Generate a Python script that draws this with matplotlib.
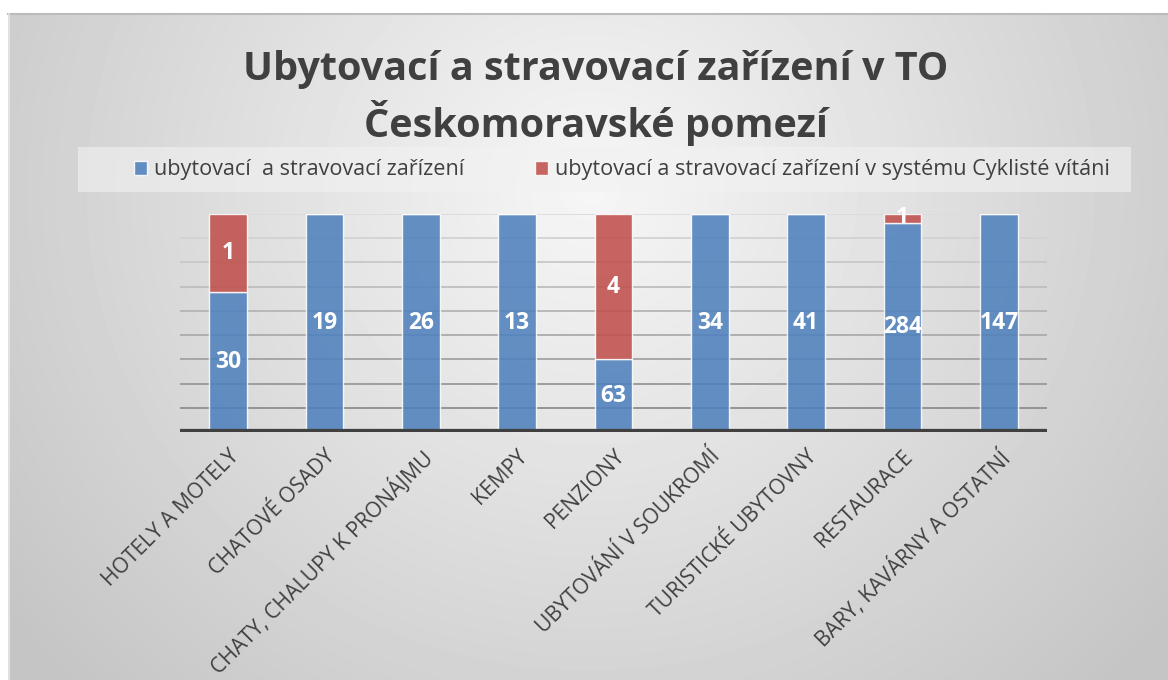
import numpy as np
import matplotlib
matplotlib.use('Agg')
import matplotlib.pyplot as plt
from matplotlib.patches import Rectangle, Patch
from matplotlib.lines import Line2D

plt.rcParams['font.family'] = ['Open Sans', 'DejaVu Sans']

# Data (bar heights are shares of the full column, labels as printed on the chart)
categories = ['HOTELY A MOTELY', 'CHATOVÉ OSADY', 'CHATY, CHALUPY K PRONÁJMU', 'KEMPY',
              'PENZIONY', 'UBYTOVÁNÍ V SOUKROMÍ', 'TURISTICKÉ UBYTOVNY', 'RESTAURACE',
              'BARY, KAVÁRNY A OSTATNÍ']
blue_share = [0.64, 1.0, 1.0, 1.0, 0.333, 1.0, 1.0, 0.96, 1.0]
red_share = [0.36, 0.0, 0.0, 0.0, 0.667, 0.0, 0.0, 0.04, 0.0]
blue_labels = ['30', '19', '26', '13', '63', '34', '41', '284', '147']
red_labels = ['1', '', '', '', '4', '', '', '1', '']
series_names = ['ubytovací  a stravovací zařízení',
                'ubytovací a stravovací zařízení v systému Cyklisté vítáni']

W, H = 1168, 680
fig = plt.figure(figsize=(W / 100, H / 100), dpi=100)
fig.patch.set_facecolor('white')

# radial gray background of the chart area
bg = fig.add_axes([8 / W, 0, (W - 8) / W, (H - 13) / H], zorder=-5)
yy, xx = np.mgrid[13:H, 8:W]
d = np.hypot(xx - 590, (yy - 190) * 1.05)
shade = np.clip(0.965 - 0.19 * d / 720, 0.77, 0.97)
bg.imshow(shade, cmap='gray', vmin=0, vmax=1, aspect='auto', interpolation='bilinear')
bg.axis('off')
fig.add_artist(Line2D([8 / W, 1], [1 - 13.5 / H] * 2, color='#BBBBBB', lw=1.5))
fig.add_artist(Line2D([8.5 / W] * 2, [0, 1 - 13.5 / H], color='#E6E6E6', lw=1.2))

# title
fig.text(596 / W, 1 - 98 / H, 'Ubytovací a stravovací zařízení v TO\nČeskomoravské pomezí',
         ha='center', va='center', fontsize=28.5, fontweight='bold', color='#404040',
         linespacing=1.3)

# legend box
fig.add_artist(Rectangle((78 / W, 1 - 192 / H), (1131 - 78) / W, 45 / H,
                         transform=fig.transFigure, facecolor='#F2F2F2', alpha=0.6,
                         edgecolor='none'))
handles = [Patch(facecolor='#4F81BD', alpha=0.88, edgecolor='white'),
           Patch(facecolor='#C0504D', alpha=0.88, edgecolor='white')]
fig.legend(handles, series_names, loc='center', bbox_to_anchor=(622 / W, 1 - 170 / H),
           ncol=2, frameon=False, fontsize=15.6, handlelength=0.6, handleheight=0.6,
           handletextpad=0.3, columnspacing=3.3, labelcolor='#404040')

ax = fig.add_axes([180 / W, 1 - 432 / H, 867 / W, 218 / H])
ax.patch.set_alpha(0)
x = np.arange(len(categories))

b1 = ax.bar(x, blue_share, width=0.39, color='#4F81BD', alpha=0.88,
            edgecolor=(1, 1, 1, 0.35), linewidth=1, zorder=3)
b2 = ax.bar(x, red_share, width=0.39, bottom=blue_share, color='#C0504D', alpha=0.88,
            edgecolor=(1, 1, 1, 0.35), linewidth=1, zorder=3)
ax.bar_label(b1, labels=blue_labels, label_type='center', color='white',
             fontsize=16.5, fontweight='bold', zorder=5)
ax.bar_label(b2, labels=red_labels, label_type='center', color='white',
             fontsize=16.5, fontweight='bold', zorder=5)

ax.set_xlim(-0.5, len(categories) - 0.5)
ax.set_ylim(0, 1)
ax.set_yticks(np.linspace(0, 1, 10))
ax.set_yticklabels([])
ax.tick_params(axis='y', length=0)
ax.yaxis.grid(True, lw=1.3, zorder=1)
for i, gl in enumerate(ax.get_ygridlines()):
    g = 0.52 + 0.34 * i / 9
    gl.set_color((g, g, g))
for s in ax.spines.values():
    s.set_visible(False)
ax.axhline(0, color='#404040', lw=4.5, zorder=4)

ax.set_xticks(x)
ax.set_xticklabels(categories, rotation=45, ha='right', rotation_mode='anchor',
                   fontsize=15.2, color='#404040')
ax.tick_params(axis='x', length=0, pad=10)

fig.savefig('out.png', dpi=100)
